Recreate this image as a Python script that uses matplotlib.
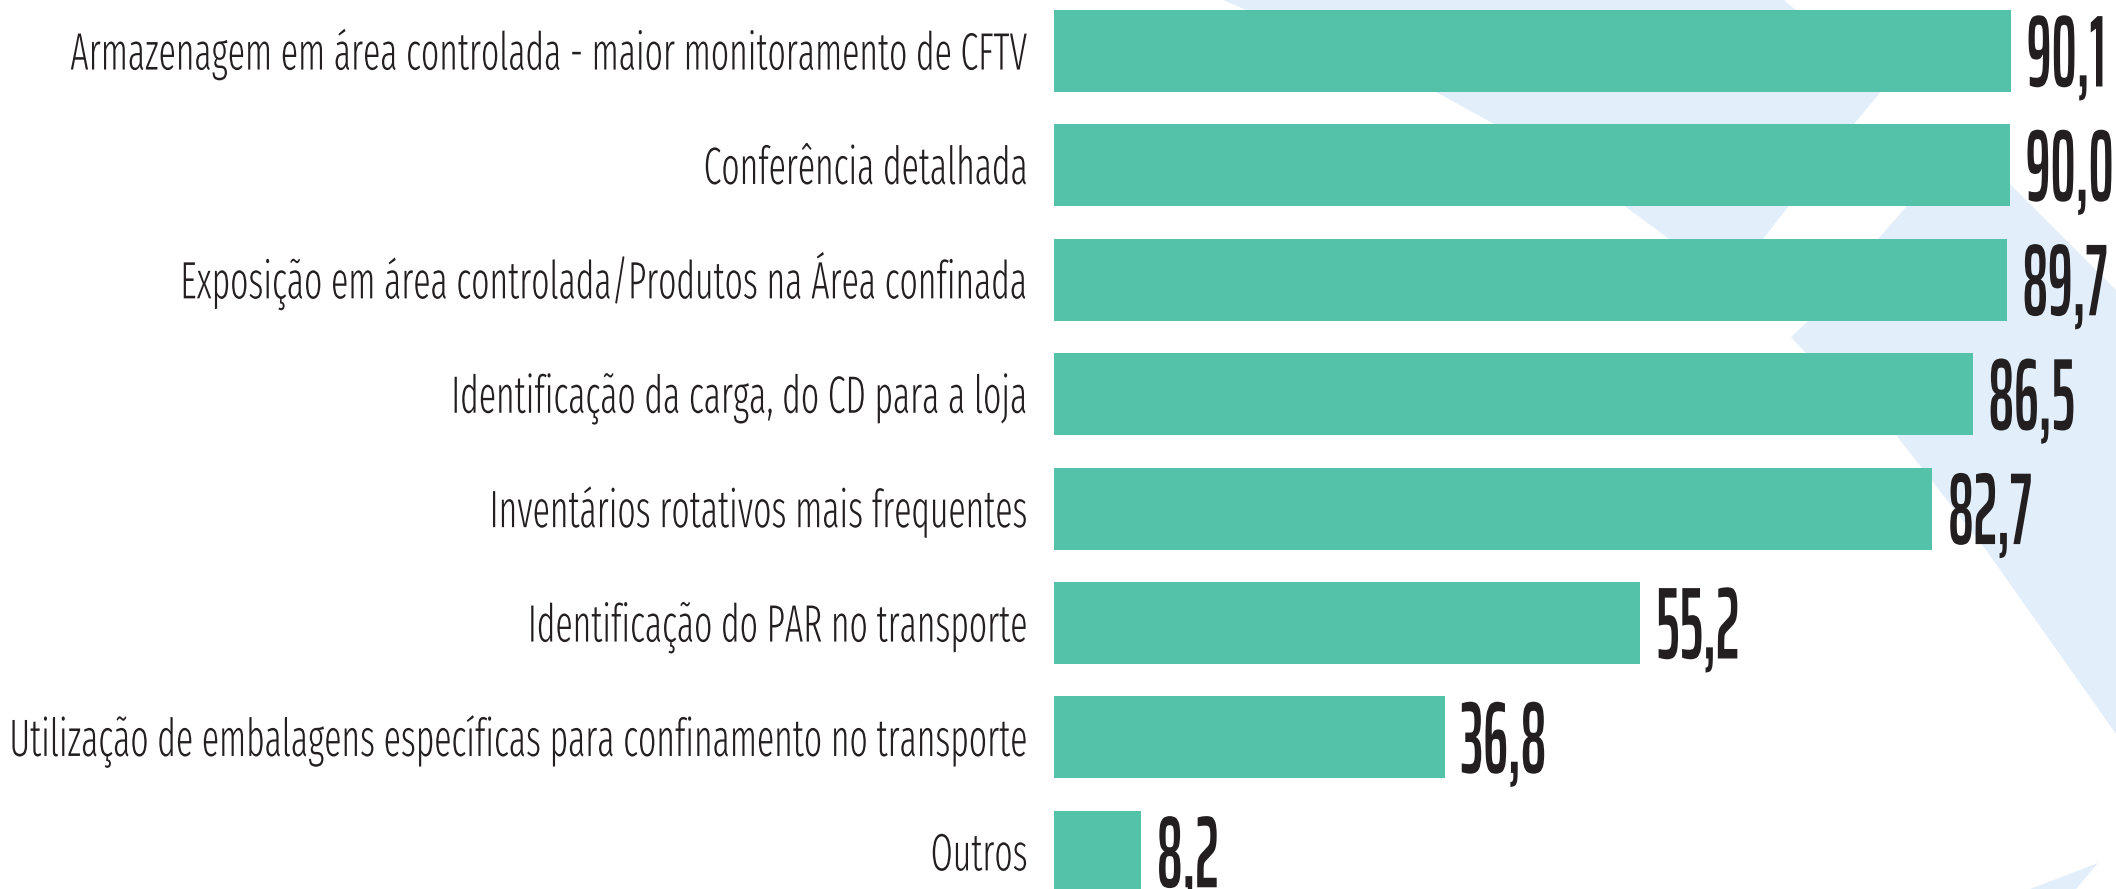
import matplotlib
matplotlib.use("Agg")
import matplotlib.pyplot as plt
import matplotlib.patheffects as pe
from matplotlib.font_manager import FontProperties
from matplotlib.patches import Polygon
from matplotlib.textpath import TextPath
from matplotlib.transforms import Affine2D

# ── Data ──────────────────────────────────────────────────────────────────────
categories = [
    "Armazenagem em área controlada - maior monitoramento de CFTV",
    "Conferência detalhada",
    "Exposição em área controlada/Produtos na Área confinada",
    "Identificação da carga, do CD para a loja",
    "Inventários rotativos mais frequentes",
    "Identificação do PAR no transporte",
    "Utilização de embalagens específicas para confinamento no transporte",
    "Outros",
]
values = [90.1, 90.0, 89.7, 86.5, 82.7, 55.2, 36.8, 8.2]
value_labels = [f"{v:.1f}".replace(".", ",") for v in values]

# ── Style ─────────────────────────────────────────────────────────────────────
W, H, DPI = 2116, 889, 100
BAR   = "#53c2a9"
INK   = "#231f20"
SHAPE = "#e2eefa"

# light blue decoration behind the bars (figure pixels, y down)
BG_SHAPES = [
    [(1223, 0), (1438, 93), (1494, 124), (1626, 207), (1669, 239), (1702, 283),
     (1763, 239), (1788, 207), (1854, 124), (1885, 87), (1784, 0)],
    [(1965, 139), (2116, 290), (2116, 734), (1986, 550), (1896, 435), (1806, 353),
     (1791, 337), (1808, 321), (1878, 239), (1906, 207)],
    [(2030, 889), (2098, 863), (2076, 889)],
]

LABEL_FONT = FontProperties(family=["Fira Sans Extra Condensed", "DejaVu Sans"],
                            weight=300, stretch="condensed")
VALUE_FONT = FontProperties(family=["Saira ExtraCondensed", "League Gothic", "DejaVu Sans"],
                            weight=600, stretch="condensed")


class Tall(pe.AbstractPathEffect):
    """Stretch glyph outlines vertically about the baseline."""
    def __init__(self, sy=1.0):
        super().__init__()
        self.sy = sy

    def draw_path(self, renderer, gc, tpath, affine, rgbFace=None):
        renderer.draw_path(gc, tpath, Affine2D().scale(1.0, self.sy) + affine, rgbFace)


def glyph_height(prop, sample, size):
    return TextPath((0, 0), sample, size=size, prop=prop).get_extents().height


# ── Figure ────────────────────────────────────────────────────────────────────
fig = plt.figure(figsize=(W / DPI, H / DPI), dpi=DPI)
fig.patch.set_facecolor("white")

for pts in BG_SHAPES:
    fig.add_artist(Polygon([(x / W, 1 - y / H) for x, y in pts], closed=True,
                           transform=fig.transFigure, facecolor=SHAPE,
                           edgecolor="none", zorder=-1))

ax = fig.add_axes([1054 / W, 0, 1 - 1054 / W, 1])
ax.patch.set_visible(False)
ax.axis("off")
ax.set_xlim(0, 100)
ax.set_ylim(7.325, -0.446)

ypos = list(range(len(categories)))
ax.barh(ypos, values, height=0.717, color=BAR)

lab_texts = [ax.text(-2.5, y + 0.162, c, ha="right", va="baseline",
                     fontproperties=LABEL_FONT, fontsize=30, color=INK)
             for y, c in zip(ypos, categories)]
val_texts = [ax.text(v + 1.5, y + 0.31, s, ha="left", va="baseline",
                     fontproperties=VALUE_FONT, fontsize=50, color=INK)
             for y, v, s in zip(ypos, values, value_labels)]

# size the texts on their width, then stretch them up to the tall condensed look
fig.canvas.draw()
r = fig.canvas.get_renderer()
k_lab = 0.5 * (1008 / lab_texts[6].get_window_extent(r).width
               + 967 / lab_texts[0].get_window_extent(r).width)
k_val = 88 / val_texts[1].get_window_extent(r).width

lab_size = 30 * k_lab
val_size = 50 * k_val
sy_lab = 36 / (glyph_height(LABEL_FONT, "H", lab_size) * DPI / 72)
sy_val = 72 / (glyph_height(VALUE_FONT, "0", val_size) * DPI / 72)

for t in lab_texts:
    t.set_fontsize(lab_size)
    t.set_path_effects([Tall(sy_lab)])
for t in val_texts:
    t.set_fontsize(val_size)
    t.set_path_effects([Tall(sy_val)])

fig.savefig("out.png", dpi=DPI, facecolor="white")
